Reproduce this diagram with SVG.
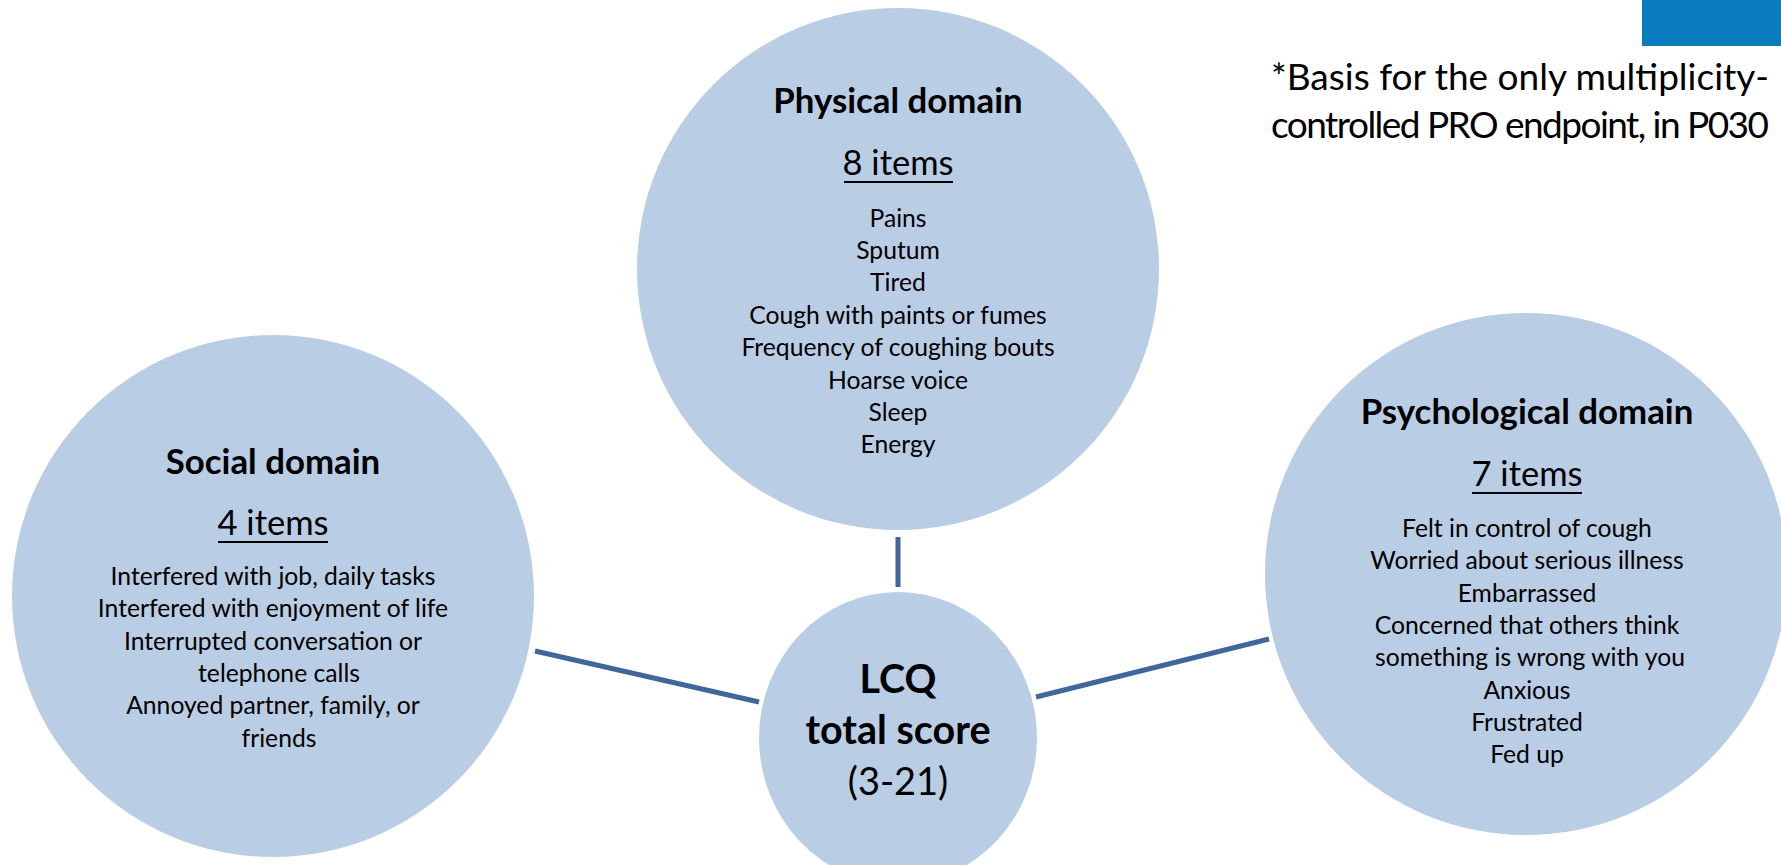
<svg xmlns="http://www.w3.org/2000/svg" width="1781" height="865" viewBox="0 0 1781 865">
<style>
.node{fill:#B9CDE5;stroke:none}
.conn{stroke:#41679A;stroke-width:5;fill:none}
text{font-family:Lato,"Liberation Sans",sans-serif;fill:#000;text-anchor:middle}
.h{font-size:34.8px;font-weight:bold}
.n{font-size:34.5px}
.i{font-size:24.7px}
.c{font-size:39.5px;font-weight:bold}
.note{font-size:37px;text-anchor:start}
.ul{stroke:#000;stroke-width:2}
</style>
<rect x="1642" y="0" width="139" height="46" fill="#0A7DC1"/>
<g id="physical">
<circle class="node" cx="898" cy="269" r="261"/>
<text class="h" x="898" y="113">Physical domain</text>
<text class="n" x="898" y="175">8 items</text>
<line class="ul" x1="844" y1="182" x2="953" y2="182"/>
<text class="i" x="898" y="227">Pains</text>
<text class="i" x="898" y="259">Sputum</text>
<text class="i" x="898" y="291">Tired</text>
<text class="i" x="898" y="324">Cough with paints or fumes</text>
<text class="i" x="898" y="356">Frequency of coughing bouts</text>
<text class="i" x="898" y="389">Hoarse voice</text>
<text class="i" x="898" y="421">Sleep</text>
<text class="i" x="898" y="453">Energy</text>
</g>
<g id="social">
<circle class="node" cx="273" cy="596" r="261"/>
<text class="h" x="273" y="474">Social domain</text>
<text class="n" x="273" y="535">4 items</text>
<line class="ul" x1="218" y1="542" x2="328" y2="542"/>
<text class="i" x="273" y="585">Interfered with job, daily tasks</text>
<text class="i" x="273" y="617">Interfered with enjoyment of life</text>
<text class="i" x="273" y="650">Interrupted conversation or</text>
<text class="i" x="279" y="682">telephone calls</text>
<text class="i" x="273" y="714">Annoyed partner, family, or</text>
<text class="i" x="279" y="747">friends</text>
</g>
<g id="psychological">
<circle class="node" cx="1526" cy="574" r="261"/>
<text class="h" x="1527" y="424">Psychological domain</text>
<text class="n" x="1527" y="486">7 items</text>
<line class="ul" x1="1472" y1="493" x2="1582" y2="493"/>
<text class="i" x="1527" y="537">Felt in control of cough</text>
<text class="i" x="1527" y="569">Worried about serious illness</text>
<text class="i" x="1527" y="602">Embarrassed</text>
<text class="i" x="1527" y="634">Concerned that others think</text>
<text class="i" x="1530" y="666">something is wrong with you</text>
<text class="i" x="1527" y="699">Anxious</text>
<text class="i" x="1527" y="731">Frustrated</text>
<text class="i" x="1527" y="763">Fed up</text>
</g>
<g id="lcq">
<ellipse class="node" cx="898" cy="738" rx="139" ry="146"/>
<text class="c" x="898" y="693">LCQ</text>
<text class="c" x="898" y="744">total score</text>
<text class="n" x="898" y="795" style="font-size:38px">(3-21)</text>
</g>
<g id="connectors">
<line class="conn" x1="898" y1="537" x2="898" y2="587"/>
<line class="conn" x1="535" y1="651" x2="759" y2="702"/>
<line class="conn" x1="1036" y1="697" x2="1269" y2="639"/>
</g>
<g id="note">
<text class="note" x="1271" y="90">*Basis for the only multiplicity-</text>
<text class="note" x="1271" y="138" textLength="498">controlled PRO endpoint, in P030</text>
</g>
</svg>
